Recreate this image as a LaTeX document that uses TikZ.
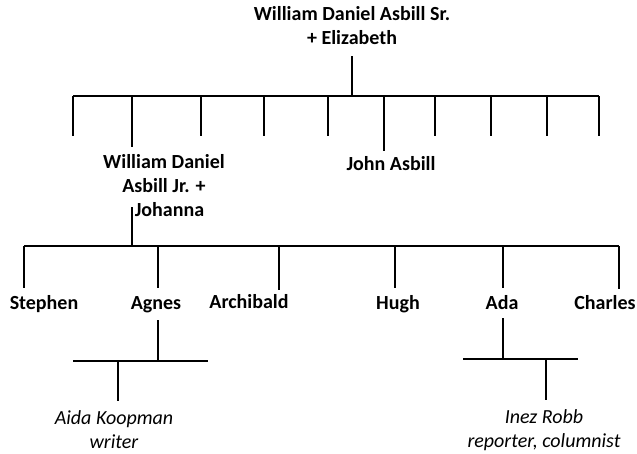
\documentclass[tikz,border=0pt]{standalone}
\usepackage{fontspec}
\setmainfont{Carlito}
\begin{document}
\begin{tikzpicture}[x=1pt,y=-1pt,line width=1.6pt]
\tikzstyle{who}=[font=\fontsize{20}{24}\selectfont\bfseries,align=center,inner sep=0pt]
\tikzstyle{kid}=[font=\fontsize{20}{24}\selectfont\itshape,align=center,inner sep=0pt]
\useasboundingbox (0,0) rectangle (637,453);
% first generation
\node[who] (sr) at (352,26) {William Daniel Asbill Sr.\\+ Elizabeth};
\coordinate (srdown) at (352,56);
\coordinate (bar1L) at (73,96);
\coordinate (bar1R) at (599,96);
\draw (srdown) -- (srdown |- bar1L);
\draw (bar1L) -- (bar1R);
\foreach \x [count=\i] in {73,201,264,328,435,491,547,599}
  {\coordinate (s\i) at (\x,136);
   \draw (s\i |- bar1L) -- (s\i);}
\node[who] (jr) at (164,186) {William Daniel\\Asbill Jr. +\\\hspace*{11pt}Johanna};
\node[who,anchor=base] (john) at (391,170) {John Asbill};
\coordinate (jrup) at (132,147);
\coordinate (johnup) at (384,151);
\draw (jrup |- bar1L) -- (jrup);
\draw (johnup |- bar1L) -- (johnup);
% second generation
\coordinate (jrdown) at (132,207);
\coordinate (bar2L) at (24,246);
\coordinate (bar2R) at (619,246);
\draw (jrdown) -- (jrdown |- bar2L);
\draw (bar2L) -- (bar2R);
\node[who,anchor=base] (stephen) at (44,309) {Stephen};
\node[who,anchor=base] (agnes) at (156,309) {Agnes};
\node[who,anchor=base] (archibald) at (249,308) {Archibald};
\node[who,anchor=base] (hugh) at (398,309) {Hugh};
\node[who,anchor=base] (ada) at (502,309) {Ada};
\node[who,anchor=base] (charles) at (605,309) {Charles};
\coordinate (c1) at (24,288);
\coordinate (c2) at (158,288);
\coordinate (c3) at (279,290);
\coordinate (c4) at (395,288);
\coordinate (c5) at (503,288);
\coordinate (c6) at (619,289);
\foreach \i in {1,...,6}
  \draw (c\i |- bar2L) -- (c\i);
% third generation
\coordinate (agdown) at (158,320);
\coordinate (bar3L) at (73,361);
\coordinate (bar3R) at (208,361);
\coordinate (aidaup) at (118,401);
\draw (agdown) -- (agdown |- bar3L);
\draw (bar3L) -- (bar3R);
\draw (aidaup |- bar3L) -- (aidaup);
\node[kid] (aida) at (114,430) {Aida Koopman\\writer};
\coordinate (adadown) at (503,318);
\coordinate (bar4L) at (463,359);
\coordinate (bar4R) at (578,359);
\coordinate (inezup) at (546,400);
\draw (adadown) -- (adadown |- bar4L);
\draw (bar4L) -- (bar4R);
\draw (inezup |- bar4L) -- (inezup);
\node[kid] (inez) at (544,430) {Inez Robb\\reporter, columnist};
\end{tikzpicture}
\end{document}
